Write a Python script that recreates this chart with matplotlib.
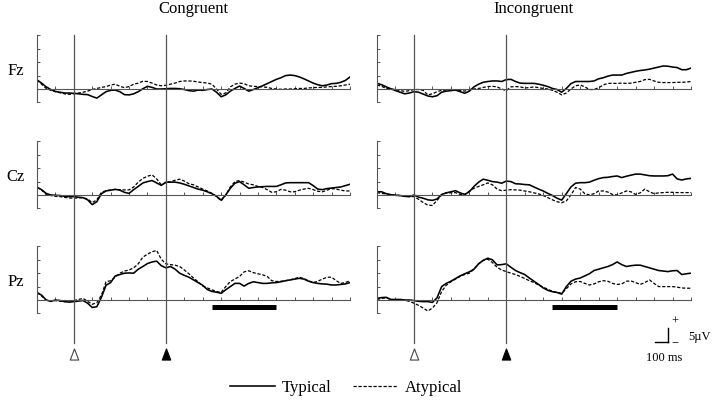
import numpy as np
import matplotlib
matplotlib.use('Agg')
import matplotlib.pyplot as plt
from matplotlib.path import Path
from matplotlib.transforms import blended_transform_factory

plt.rcParams['font.family'] = ['Liberation Serif', 'DejaVu Serif']

# ---------------------- Data (uV, sampled every 25 ms) ---------------------- #

times = np.arange(-200, 1501, 25)  # ms, S1 onset = 0
conditions = ['Congruent', 'Incongruent']
channels = ['Fz', 'Cz', 'Pz']
groups = ['Typical', 'Atypical']
s1_onset = 0
s2_onset = 500
sig_window = [750, 1100]

fz_con_typical = [
    3.4, 2.2, 0.8, -0.2, -0.9, -1.2, -1.5, -1.5,
    -1.6, -1.8, -2.0, -2.1, -2.8, -3.4, -2.2, -1.0,
    -0.5, -0.4, -1.0, -2.1, -2.2, -1.8, -1.0, 0.1,
    1.0, 0.6, 0.0, 0.0, 0.1, 0.2, 0.2, 0.1,
    -0.2, -0.6, -0.8, -0.4, -0.5, -0.2, 0.0, -1.2,
    -2.9, -2.2, -0.8, 0.2, 1.1, 0.2, -0.8, -0.2,
    0.5, 1.2, 2.0, 2.8, 3.6, 4.2, 5.0, 5.2,
    5.0, 4.5, 3.8, 3.0, 2.2, 1.6, 1.2, 1.5,
    2.0, 2.1, 2.5, 3.2, 4.5]
fz_con_atypical = [
    3.4, 1.8, 0.2, -0.5, -1.0, -1.4, -1.8, -2.0,
    -1.8, -1.5, -1.2, -0.8, -0.2, 0.2, 0.6, 0.9,
    1.5, 1.8, 1.0, 0.5, 0.9, 1.8, 2.2, 2.9,
    2.8, 2.2, 1.5, 1.2, 1.4, 1.8, 2.2, 2.8,
    3.0, 3.0, 2.9, 2.6, 2.4, 2.2, 1.8, 0.0,
    -2.0, -1.5, 0.8, 1.8, 2.2, 2.0, 1.2, 1.0,
    0.9, 0.8, 0.6, 0.2, 0.0, -0.1, 0.0, 0.0,
    0.1, 0.2, 0.2, 0.4, 0.5, 0.6, 0.6, 0.8,
    0.9, 1.0, 1.2, 1.5, 1.8]
fz_inc_typical = [
    2.1, 1.6, 0.8, 0.1, -0.6, -1.2, -1.8, -1.5,
    -1.0, -1.2, -1.9, -2.6, -2.9, -2.5, -1.2, -0.8,
    -0.6, -0.4, -1.0, -1.6, -0.8, 0.8, 1.8, 2.5,
    2.8, 3.0, 3.0, 2.8, 3.5, 3.6, 2.8, 2.2,
    2.1, 2.1, 2.1, 1.8, 1.4, 0.9, 0.2, -0.2,
    -1.2, 0.2, 2.0, 2.8, 2.8, 2.8, 2.8, 3.0,
    3.8, 4.2, 4.8, 5.2, 5.2, 5.2, 5.8, 6.2,
    6.6, 6.9, 7.1, 7.4, 7.8, 8.2, 8.6, 8.5,
    8.2, 8.0, 7.2, 7.2, 7.8]
fz_inc_atypical = [
    1.5, 1.0, 0.2, 0.0, -0.2, -0.6, -0.9, -0.6,
    -0.2, -0.2, -0.5, -2.2, -1.8, -1.0, -0.5, -0.4,
    -0.2, -0.4, -0.5, -0.8, -0.2, 0.0, 0.2, 0.6,
    0.9, 1.0, 0.8, 0.0, -0.6, 0.8, 0.9, 0.8,
    0.4, 0.5, 0.8, 0.5, 0.2, 0.0, -0.5, -1.2,
    -2.2, -1.5, 0.0, 1.2, 1.5, 0.8, -0.2, -0.2,
    0.5, 1.5, 2.1, 2.1, 2.1, 2.2, 2.1, 2.2,
    2.5, 2.8, 3.5, 3.6, 3.0, 2.5, 2.4, 2.4,
    2.4, 2.5, 2.5, 2.6, 2.8]

cz_con_typical = [
    2.9, 2.0, 0.6, 0.0, -0.1, -0.2, -0.5, -0.6,
    -0.6, -0.8, -1.0, -1.8, -3.6, -2.5, 0.5, 1.5,
    1.8, 2.1, 1.8, 1.0, 0.6, 2.0, 3.2, 4.5,
    5.0, 5.4, 4.5, 3.6, 4.8, 4.8, 4.8, 4.5,
    4.0, 3.4, 2.8, 2.2, 1.8, 1.2, 0.5, -0.5,
    -1.9, 0.0, 2.5, 4.4, 5.0, 3.8, 2.5, 2.8,
    3.0, 3.1, 3.2, 3.2, 3.2, 3.8, 4.5, 4.6,
    4.6, 4.6, 4.6, 4.6, 3.5, 2.2, 2.0, 2.4,
    2.6, 2.8, 3.0, 3.5, 4.0]
cz_con_atypical = [
    2.9, 1.8, 0.2, -0.2, -0.5, -0.6, -0.9, -1.1,
    -1.2, -1.1, -1.0, -1.5, -2.8, -1.8, 1.0, 1.6,
    1.9, 2.1, 2.0, 1.9, 1.9, 3.0, 4.8, 6.2,
    7.0, 7.5, 6.0, 3.8, 4.6, 5.0, 5.5, 5.9,
    5.2, 4.2, 3.8, 3.0, 2.2, 1.5, 0.6, -0.5,
    -2.2, 0.0, 3.0, 5.0, 5.4, 4.8, 4.1, 3.8,
    3.2, 2.8, 2.0, 1.0, 1.2, 2.1, 1.8, 1.2,
    1.2, 1.8, 2.2, 2.5, 2.0, 1.4, 1.2, 1.8,
    2.4, 2.2, 1.8, 1.5, 1.5]
cz_inc_typical = [
    1.2, 1.2, 0.5, 0.1, -0.1, -0.2, -0.5, -0.6,
    0.0, -0.8, -1.2, -1.8, -2.0, -1.5, 0.2, 0.8,
    1.2, 1.6, 0.8, 0.2, 1.2, 3.2, 4.8, 5.9,
    5.5, 5.0, 4.8, 4.4, 5.2, 5.0, 4.2, 4.1,
    3.9, 3.8, 3.0, 2.2, 1.5, 0.6, -0.2, -1.2,
    -1.9, 0.5, 3.0, 4.4, 4.6, 4.6, 4.8, 5.5,
    6.1, 6.5, 6.6, 6.9, 7.1, 6.5, 7.0, 7.4,
    7.8, 7.8, 7.5, 7.2, 7.1, 7.1, 7.1, 7.2,
    7.8, 6.0, 5.6, 6.0, 6.2]
cz_inc_atypical = [
    0.9, 0.6, 0.4, 0.1, -0.1, -0.2, -0.4, -0.6,
    -0.6, -1.6, -2.8, -3.8, -3.9, -2.0, 0.0, 0.8,
    0.8, 0.9, 0.2, 0.2, 1.5, 2.5, 3.2, 3.8,
    4.5, 3.8, 2.2, 1.6, 1.8, 2.0, 1.9, 1.8,
    1.5, 1.2, 0.8, 0.4, -0.2, -1.0, -1.8, -2.5,
    -2.9, -2.2, 0.0, 2.8, 2.2, 0.5, 0.0, 0.5,
    1.5, 1.5, 1.1, 0.2, 0.0, 0.8, 1.5, 1.2,
    0.2, 0.8, 2.2, 1.2, 0.5, 0.8, 0.9, 1.0,
    1.0, 0.9, 0.9, 0.9, 0.9]

pz_con_typical = [
    2.8, 1.8, 0.0, -0.5, 0.0, -0.2, -0.6, -0.8,
    -0.6, -0.4, -0.2, -1.2, -2.8, -2.5, 1.0, 5.5,
    6.5, 9.0, 9.5, 10.0, 10.1, 10.0, 11.5, 12.5,
    13.6, 14.2, 14.5, 12.8, 12.0, 12.5, 11.5, 10.0,
    9.2, 8.5, 7.5, 6.5, 5.5, 3.9, 3.2, 2.9,
    2.5, 3.8, 5.0, 6.2, 6.2, 5.2, 6.2, 6.8,
    6.5, 6.2, 6.2, 6.4, 6.5, 6.8, 7.2, 7.5,
    7.8, 8.1, 7.8, 7.0, 6.5, 6.2, 6.0, 5.9,
    5.6, 5.6, 5.8, 6.0, 6.5]
pz_con_atypical = [
    2.8, 1.5, -0.1, -0.5, -0.2, -0.5, -0.6, -0.4,
    -0.2, 0.2, 0.6, -0.5, -1.6, -1.0, 1.8, 6.8,
    7.2, 8.5, 10.0, 10.8, 11.2, 12.0, 13.5, 16.0,
    17.1, 18.0, 18.5, 15.2, 13.5, 13.2, 13.0, 12.5,
    11.2, 9.8, 8.2, 6.8, 5.2, 4.5, 3.8, 3.2,
    2.8, 5.0, 6.9, 7.8, 8.8, 10.5, 10.9, 10.2,
    9.8, 9.4, 8.8, 7.2, 6.9, 7.0, 7.2, 7.5,
    8.0, 8.5, 8.0, 7.2, 6.5, 7.0, 7.8, 8.5,
    8.5, 7.2, 6.2, 6.5, 7.2]
pz_inc_typical = [
    0.6, 0.9, 1.0, 0.2, 0.2, 0.2, 0.0, 0.0,
    -0.2, -0.5, -0.6, -0.6, -0.9, 0.8, 5.0, 6.2,
    7.0, 8.0, 9.0, 9.8, 10.5, 11.5, 13.5, 14.8,
    15.6, 15.0, 13.1, 13.2, 13.5, 12.2, 11.0, 10.2,
    9.5, 8.2, 7.0, 5.8, 4.5, 3.6, 3.1, 2.8,
    2.2, 5.0, 7.0, 7.8, 8.2, 9.0, 9.8, 11.0,
    11.5, 12.0, 12.5, 13.2, 14.2, 13.2, 12.5, 12.8,
    13.0, 13.0, 12.5, 12.0, 11.5, 11.0, 10.8, 10.6,
    10.9, 11.0, 9.5, 9.8, 10.0]
pz_inc_atypical = [
    0.2, 0.6, 0.8, 0.2, 0.0, 0.0, -0.1, -0.5,
    -1.2, -2.0, -3.0, -4.1, -3.0, -1.0, 3.2, 5.5,
    6.8, 7.8, 8.8, 9.5, 10.0, 11.5, 13.5, 14.8,
    15.2, 14.0, 12.2, 11.2, 10.6, 10.0, 9.5, 8.8,
    8.0, 7.2, 6.5, 5.6, 4.8, 4.0, 3.2, 2.8,
    2.5, 4.2, 6.0, 6.8, 6.9, 6.2, 5.6, 6.0,
    6.8, 7.2, 7.0, 6.2, 5.8, 6.0, 7.0, 7.1,
    6.5, 5.8, 6.5, 7.5, 6.2, 5.0, 5.0, 5.0,
    5.0, 4.8, 4.5, 4.4, 4.4]

waves = {
    'Congruent': {'Fz': (fz_con_typical, fz_con_atypical),
                  'Cz': (cz_con_typical, cz_con_atypical),
                  'Pz': (pz_con_typical, pz_con_atypical)},
    'Incongruent': {'Fz': (fz_inc_typical, fz_inc_atypical),
                    'Cz': (cz_inc_typical, cz_inc_atypical),
                    'Pz': (pz_inc_typical, pz_inc_atypical)},
}

# ---------------------- Layout ---------------------- #

W, H = 714, 401
grey = '#555555'
fig = plt.figure(figsize=(W / 100, H / 100), dpi=100)

col_left = [37 / W, 377 / W]
col_width = [313 / W, 314 / W]
row_bottom = [1 - 102.4 / H, 1 - 208.4 / H, 1 - 313.4 / H]
row_height = 67 / H

# tall narrow triangle used for the stimulus markers
tri = Path([(-0.38, -0.5), (0.38, -0.5), (0, 0.5), (-0.38, -0.5)], closed=True)

handles = None
for ci, cond in enumerate(conditions):
    for ri, ch in enumerate(channels):
        ax = fig.add_axes([col_left[ci], row_bottom[ri], col_width[ci], row_height])
        ax.patch.set_visible(False)
        typ, atyp = waves[cond][ch]
        l1, = ax.plot(times, typ, color='black', lw=1.15, label=groups[0])
        l2, = ax.plot(times, atyp, color='black', lw=0.9, ls=(0, (2.6, 1.4)), label=groups[1])
        if handles is None:
            handles = [l1, l2]

        # axes: bracket on the left, baseline at 0 uV
        for s in ['top', 'right']:
            ax.spines[s].set_visible(False)
        ax.spines['bottom'].set_position(('data', 0))
        for s in ['left', 'bottom']:
            ax.spines[s].set_color(grey)
            ax.spines[s].set_linewidth(0.8)
        ax.set_xticks(np.arange(-200, 1501, 100))
        ax.set_yticks(np.arange(-5, 21, 5))
        ax.tick_params(direction='in', length=2.5, width=0.7, colors=grey,
                       labelbottom=False, labelleft=False)

        if ci == 0:
            ax.text(-0.067, 0.47, ch, transform=ax.transAxes, ha='center', va='center', fontsize=12)

        if ch == 'Pz':
            # stimulus onsets: lines across the whole column + triangles
            tr = blended_transform_factory(ax.transData, fig.transFigure)
            for t in [s1_onset, s2_onset]:
                ax.plot([t, t], [1 - 35 / H, 1 - 343 / H], transform=tr,
                        color=grey, lw=0.9, clip_on=False)
            ax.plot([s1_onset], [1 - 354 / H], transform=tr, marker=tri, ms=8,
                    mfc='white', mec='#444444', mew=0.8, clip_on=False, ls='none')
            ax.plot([s2_onset], [1 - 354 / H], transform=tr, marker=tri, ms=8,
                    mfc='black', mec='black', mew=0.8, clip_on=False, ls='none')
            # analysis window
            trw = blended_transform_factory(ax.transData, ax.transAxes)
            ax.plot(sig_window, [0.095, 0.095], transform=trw, color='black',
                    lw=3.6, solid_capstyle='butt', clip_on=False)

        ax.set_xlim(-200, 1500)
        ax.set_ylim(-5, 20)

    fig.text(col_left[ci] + col_width[ci] / 2, 1 - 9 / H, cond,
             ha='center', va='center', fontsize=12)

# legend
fig.legend(handles, groups, loc='center', bbox_to_anchor=(346 / W, 1 - 388 / H),
           ncol=2, frameon=False, fontsize=12, handlelength=2.7,
           handletextpad=0.4, columnspacing=1.3)

# scale bar
fig.add_artist(plt.Line2D([655 / W, 668 / W], [1 - 342 / H, 1 - 342 / H],
                          transform=fig.transFigure, color='black', lw=1))
fig.add_artist(plt.Line2D([668 / W, 668 / W], [1 - 342 / H, 1 - 328 / H],
                          transform=fig.transFigure, color='black', lw=1))
fig.text(675 / W, 1 - 322 / H, '+', ha='center', va='center', fontsize=9)
fig.text(675 / W, 1 - 344 / H, '\u2212', ha='center', va='center', fontsize=9)
fig.text(688 / W, 1 - 337 / H, '5µV', ha='left', va='center', fontsize=9)
fig.text(664 / W, 1 - 358 / H, '100 ms', ha='center', va='center', fontsize=9)

fig.savefig('out.png', dpi=100)
